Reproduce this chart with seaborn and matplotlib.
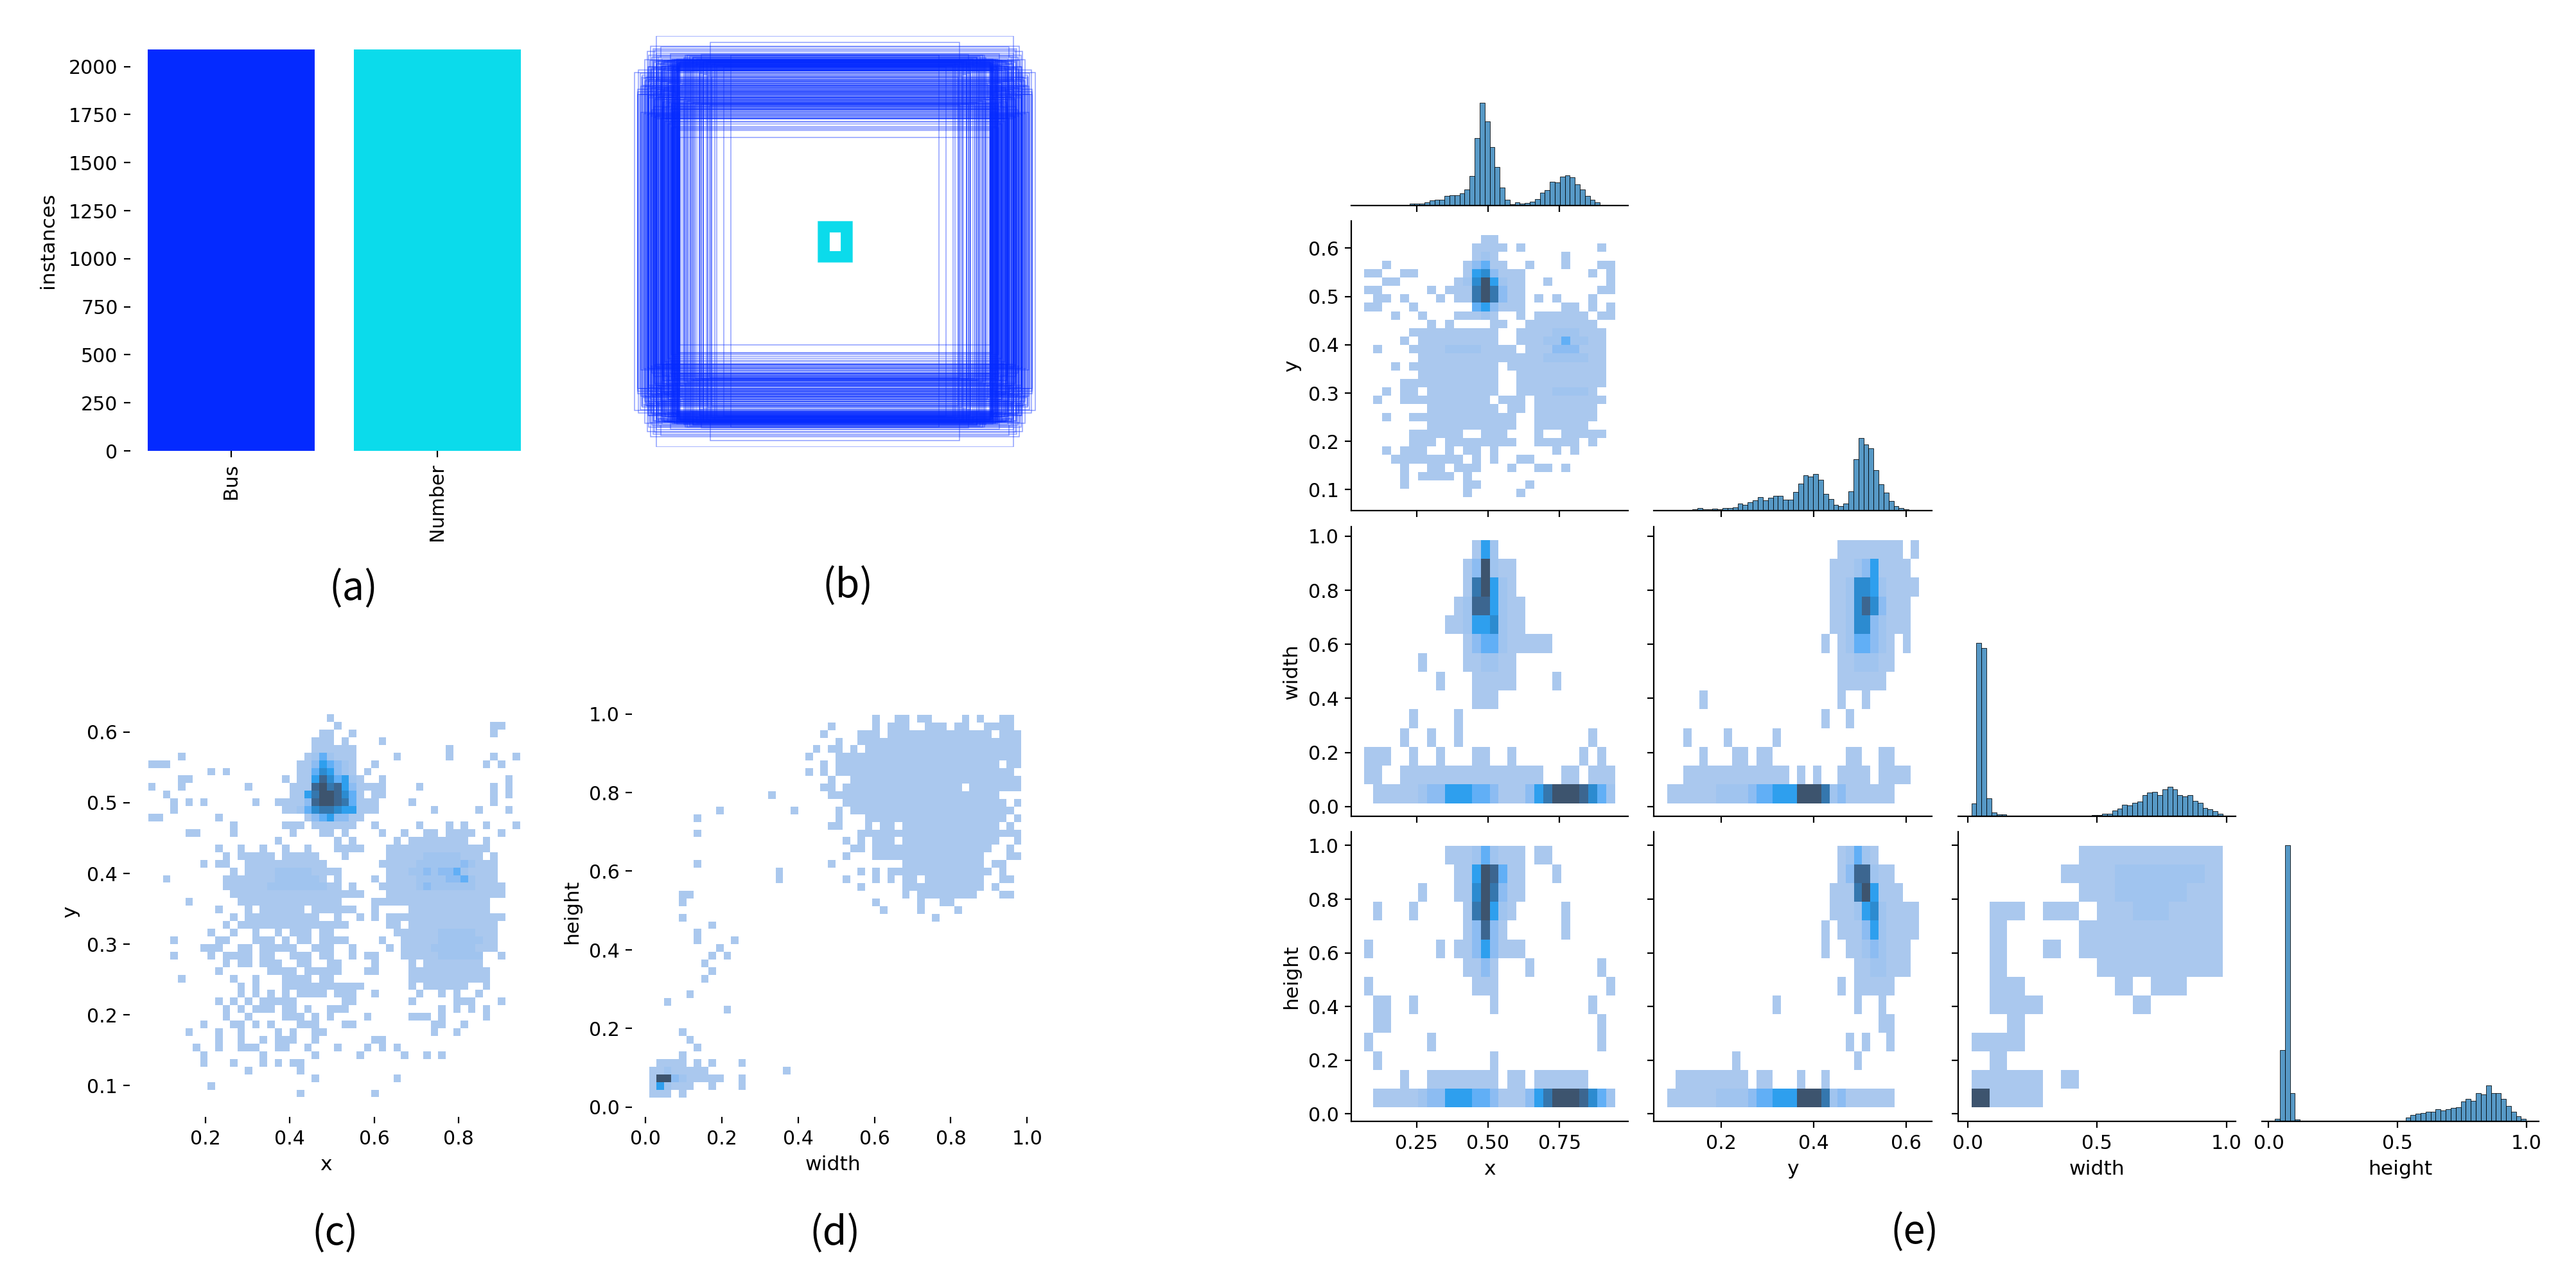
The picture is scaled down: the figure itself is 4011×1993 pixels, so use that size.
import numpy as np
import pandas as pd
import matplotlib
matplotlib.use('Agg')
import matplotlib.pyplot as plt
from matplotlib.patches import Rectangle
import seaborn as sns

W, H = 4012, 1993

plt.rcParams['xtick.labelsize'] = 10.8
plt.rcParams['ytick.labelsize'] = 10.8
plt.rcParams['axes.labelsize'] = 11.3

# (a) class counts
classes = ['Bus', 'Number']
instances = [2090, 2090]
class_colors = ['#042AFF', '#0BDBEB']

# (b) box sizes, thousandths of the plot square
bus_w = [975, 870, 605, 912, 905, 898, 890, 884, 877, 870,
         861, 855, 848, 842, 836, 828, 822, 815, 808, 800,
         794, 790, 786, 782, 778, 774, 770, 766, 762, 758,
         912, 905, 880, 875, 842, 836, 826, 820, 792, 788,
         905, 872, 845, 828, 812, 796, 768, 756, 930, 945,
         958, 925, 720, 705, 690, 672, 655, 640, 620, 600,
         575, 540, 505, 960, 950, 915, 868, 850, 810, 745,
         735, 725, 712, 700, 680, 660, 795, 785, 775, 765,
         900, 885, 865, 845, 830, 818, 805, 796, 781, 771,
         761, 752, 905, 878, 835, 790, 777, 769, 759, 728,
         690, 640, 585, 890, 872, 847, 825, 803, 787, 763,
         910, 893, 858, 840, 925, 868, 835, 790, 757, 700,
         780, 770, 760, 850, 825, 905, 880, 790, 765, 940,
         800, 812, 845, 870, 760, 785, 775, 895, 650, 625,
         770, 790, 830, 860, 880, 755, 765, 783, 810, 840,
         955, 948, 936, 922, 918, 908, 896, 888, 876, 868,
         858, 852, 838, 832, 812, 806, 798, 793, 787, 781,
         775, 769, 763, 757, 944, 930, 915, 900, 885, 870,
         850, 830, 810, 790, 770, 752, 735, 720, 700, 680,
         660, 640, 620, 600, 935, 905, 875, 845, 815, 785,
         755, 925, 895, 865, 835, 805, 775, 960, 910, 860,
         820, 780, 760, 735, 690, 650, 610, 880, 840, 800]
bus_h = [822, 1000, 968, 925, 905, 950, 895, 938, 930, 915,
         905, 898, 945, 890, 880, 875, 870, 865, 860, 855,
         850, 845, 840, 835, 830, 825, 868, 862, 856, 848,
         745, 730, 720, 700, 690, 675, 668, 660, 645, 630,
         620, 610, 600, 585, 570, 552, 545, 505, 760, 755,
         740, 780, 905, 898, 892, 886, 880, 875, 870, 860,
         855, 850, 905, 728, 715, 800, 790, 780, 770, 765,
         892, 885, 878, 868, 858, 848, 888, 882, 872, 866,
         882, 876, 862, 852, 842, 832, 852, 846, 838, 830,
         880, 874, 700, 690, 680, 670, 665, 655, 640, 905,
         895, 880, 870, 640, 615, 600, 595, 580, 560, 540,
         848, 842, 838, 830, 885, 878, 872, 866, 860, 830,
         885, 878, 870, 862, 855, 848, 842, 836, 830, 800,
         912, 880, 872, 866, 858, 850, 844, 836, 908, 878,
         888, 884, 880, 876, 872, 868, 864, 860, 856, 852,
         835, 818, 808, 798, 788, 778, 768, 758, 748, 738,
         728, 718, 708, 698, 688, 678, 672, 668, 662, 656,
         650, 644, 638, 632, 626, 620, 614, 608, 602, 596,
         735, 745, 755, 725, 715, 705, 695, 685, 675, 665,
         818, 812, 806, 800, 794, 788, 782, 776, 770, 764,
         758, 752, 746, 740, 734, 728, 722, 716, 710, 704,
         698, 692, 686, 680, 674, 668, 662, 656, 650, 644]
num_w = [80, 78, 76, 74, 72, 70, 68, 66, 64, 62, 60, 58, 56, 54, 52, 50, 48, 46, 44, 42, 40, 38, 36, 34, 32, 30]
num_h = [96, 94, 92, 90, 88, 86, 84, 82, 80, 78, 76, 74, 72, 70, 68, 66, 64, 62, 60, 58, 56, 54, 52, 52, 50, 50]

# heat levels to counts, rows below run top to bottom, "a-b" = occupied bins
level_counts = [0, 1, 5, 12, 24, 38, 54, 70, 84, 100]

xy_fine_rows = [
    '24', '25 46-47', '23-24 27 46', '22-24 26 31', '22-27 40', '4 21-27 33 40 46 49',
    '0-2 20-27 30 45 47', '8 10 20-27 29', '4-5 18 20-28 31 48', '0 4 13 19-31 36 46 48',
    '2 19-28 30-31 46 48', '3 5 7 14 17-30 35 46', '3 18-30 38 44 48', '0-1 9 21-28',
    '11 18-20 22-27 30 36 40 42 45 49', '5-6 11 19 23-24 26 31 34 37-38 40-43 47',
    '17 25 27 33 35-42 45', '9 12 15 18 21 25-28 32-45', '10 12-16 18-22 26 32-44 46',
    '7 9-10 13-23 31-46', '11 13-25 32-46', '2 10-23 25 30 32-46', '10-25 27 31-47',
    '11-28 32-47', '5 12-25 30-45', '9 13 15-20 22-27 30 35-45', '11 13-22 25 28 30 32-47',
    '10 12-26 32-33 35-46', '8 11 14 17 19-21 23-24 33-46', '3 9-10 14-16 18 20-21 23-26 31 34-46',
    '7-9 12-13 15-19 22-24 27 32 34-46', '3 8 10-13 15-16 19-21 23-24 27 29-30 34-44 47',
    '10 12-13 15-17 20-21 24-25 30 35 37-44', '9 16-19 21-25 29-30 35-45',
    '4 11 14 18-21 23-24 35-45', '12 14 18-28 35 37-42 45',
    '12 14 16 18 20-23 25-27 30 36 39 41 44', '9 11 13 15-19 26-27 35 41-43 47',
    '10 12 14-16 18-19 21 24-26 39 41 43 45', '10 13 18-20 22 24 29 35-37 39 45',
    '7 11-12 14 16 20-22 26-27 38-39 42', '5 9 12 17 19 22-23 38 41',
    '9 12 15 17-19 22 30-31', '6 9 12-14 17-18 21 25 29 31 33',
    '7 15 22 28 34 37 39', '7 11 15 17 19-20', '13 20', '22 33', '8', '20 30']
xy_fine_hot = [
    (5, 22, '242'), (6, 22, '35432'), (7, 22, '46532'), (8, 22, '586452'), (9, 22, '897853'),
    (10, 21, '5799864'), (11, 21, '3899874'), (12, 20, '24677655'), (13, 22, '34533'),
    (18, 37, '22222'), (19, 36, '22222232'), (20, 35, '22323342'), (21, 36, '22223342'),
    (22, 36, '23222222'), (20, 17, '22222'), (21, 17, '222222'), (22, 16, '22222222'),
    (28, 39, '22222'), (29, 39, '222222'), (30, 38, '222222'), (31, 39, '222222')]

wh_fine_rows = [
    '30 33-34 36-37 42 44 47-48', '24 30 32-34 37-39 41-42 45-48', '23 28-30 32-45 47-49',
    '25 28-49', '22 24-25 27 29-49', '21 25-49', '23 25-46 48-49', '21 23 25-48', '24 27-49',
    '23-24 26-41 43-49', '16 24-46', '26-47 49', '9 19 25 27-48', '6 25 29-47 49',
    '24-25 29 31-32 34-46 48', '6 28-49', '26 28 30-32 34-46 49', '27-28 30-45 48',
    '26 30-44 48-49', '6 24 34-44 46-47', '17 28 30 32-45 47', '17 26 30 32 34-35 37-44 47-48',
    '28 34-44 46', '4-5 34 36-43 47-48', '4 30 36 39-40', '31 36 41', '4 38', '8', '6', '6 11',
    '9', '8 10', '7', '8', '7', '', '5', '2', '10', '', '', '4', '5', '6', '4',
    '1-4 6 8 12', '0-7 18', '0-9 12', '0-5 8 12', '0-2 4']
wh_fine_hot = [(46, 2, '2'), (47, 1, '9932'), (48, 1, '52')]

# pair grid, 2d hist bins for x/y columns and coarse width/height rows
xy_rows = [
    '13-14', '12-15 17 26', '12-14 22', '2 11-15 18 22 26-27', '0-1 4-5 11-17 25 27',
    '2-3 10-17 20 27', '0-1 7 9-17 26-27', '1-2 4 8 10-17 19 21 25', '0-1 5 12-17 22-23 25 27',
    '3 6 10-14 17 19-24 26-27', '7 9 14-15 18-25', '5-14 17-26', '4 6-14 17-26', '1 5-16 18-26',
    '6-26', '3 5-14 16-26', '6-14 17-26', '4-14 17-26', '2 4-5 7-14 17-25', '1 4-13 15-17 19-26',
    '7-14 16-17 19-25', '2 5-16 19-25', '7-16 19-24', '5-10 13-15 19 22-26', '5-7 9-16 19-23 25',
    '2 4-6 9 11-12 14 21 23', '3-10 12 14 17-18', '4 7-8 10-12 16 19-20 22', '4 6-9 11', '4 11-12 18', '11 17']
xy_hot = [
    (2, 13, '2'), (3, 12, '34'), (4, 12, '563'), (5, 11, '26952'), (6, 12, '7973'),
    (7, 12, '7973'), (8, 12, '453'), (9, 13, '2'), (11, 21, '222'), (12, 20, '22422'),
    (13, 21, '333'), (14, 20, '22222'), (13, 9, '2222'), (18, 21, '2222')]

x_width_rows = [
    '12-14', '11-16', '11-16', '10-17', '9-17', '11-20', '6 11-16', '8 12-16 21', '12-14',
    '5 10', '4 7 10 25', '0-2 5 8 12-13 16 24 26', '0-1 4-19 22-23 25-27', '1-27']
x_width_hot = [
    (0, 12, '152'), (1, 11, '139211'), (2, 11, '179521'), (3, 10, '12885211'), (4, 9, '112556211'),
    (5, 12, '3442'), (6, 13, '22'), (13, 1, '111112335554431113579998642')]

y_width_rows = [
    '21-28 30', '20-29', '20-30', '20-29', '20-29', '19 21-27 29', '21-27', '21-26', '4 21 24',
    '19 22', '2 7 13', '4 8-9 11-12 22-23 26-27', '2-14 16 18 21-24 26-29', '0-27']
y_width_hot = [
    (1, 22, '1235'), (2, 22, '26652'), (3, 22, '26863'), (4, 22, '26632'), (5, 22, '24432'),
    (6, 23, '222'), (13, 6, '2222344555999723')]

x_height_rows = [
    '9-17 19-20', '10-17 21', '6 10-17', '1 5 11-16 22', '11-15 22', '0 8 10-17', '11-14 18 26',
    '0 12-14 27', '1-2 5 14 25', '1-2 26', '0 7 26', '1 14', '4 7-14 16-17 19-24', '1-27']
x_height_hot = [
    (0, 12, '242'), (1, 12, '5984'), (2, 12, '6973'), (3, 12, '7952'), (4, 12, '383'),
    (5, 12, '353'), (6, 13, '3'), (13, 1, '111112335554431113579998642')]

y_height_rows = [
    '21-25', '21-27', '20-28', '20-30', '19 21-30', '19 22-29', '23-29', '21 23-27', '13 23 26',
    '26-27', '22 24 27', '8 23', '1-9 11-12 16 19', '0-27']
y_height_hot = [
    (0, 22, '242'), (1, 22, '3882'), (2, 23, '795'), (3, 23, '2562'), (4, 24, '352'),
    (5, 24, '232'), (6, 25, '22'), (13, 6, '2222344555999723')]

width_height_rows = [
    '6-13', '5-13', '6-13', '1-2 4-5 7-13', '1 6-13', '1 4 6-13', '1 7-13', '1-2 8 10-11',
    '1-3 9', '2', '0-2', '1', '0-3 5', '0-3']
width_height_hot = [(1, 8, '22222'), (2, 8, '2222'), (3, 9, '22'), (13, 0, '9')]

# diagonal bin heights (50 bins each)
x_counts = [0, 0, 0, 0, 0, 0, 0, 0, 0, 3, 3, 3, 5, 8, 9, 9, 15, 16, 16, 19, 25, 46, 105, 160, 131,
            91, 60, 28, 9, 2, 5, 3, 4, 6, 10, 20, 24, 37, 36, 45, 47, 44, 33, 25, 15, 9, 5, 1, 0, 0]
y_counts = [0, 0, 0, 0, 1, 2, 4, 2, 2, 3, 2, 4, 4, 5, 11, 9, 13, 16, 21, 16, 20, 23, 23, 17, 17,
            29, 42, 55, 53, 57, 48, 26, 18, 9, 7, 11, 30, 80, 113, 103, 97, 63, 41, 28, 15, 7, 4, 2, 0, 0]
width_counts = [20, 270, 262, 28, 6, 3, 3, 0, 0, 0, 0, 0, 0, 0, 0, 0, 0, 0, 0, 0, 0, 0, 0, 0, 2,
                2, 4, 4, 9, 12, 18, 17, 21, 23, 33, 37, 38, 33, 42, 46, 42, 33, 31, 33, 24, 21, 13, 11, 8, 4]
height_counts = [4, 111, 430, 44, 3, 0, 0, 0, 0, 0, 0, 0, 0, 0, 0, 0, 0, 0, 0, 0, 0, 0, 0, 0, 0, 0,
                 6, 10, 12, 13, 15, 15, 19, 17, 19, 21, 22, 31, 35, 32, 44, 42, 56, 44, 44, 35, 24, 15, 8, 4]

x_bins = np.linspace(0.068, 0.944, 29)
x_fine = np.linspace(0.064, 0.9456, 51)
y_bins = np.linspace(0.084, 0.627, 32)
y_fine = np.linspace(0.0837, 0.625, 51)
w_fine = np.linspace(0.0098, 0.985, 51)
h_fine = np.linspace(0.0245, 0.998, 51)
w_bins = np.linspace(0.012, 0.985, 15)
h_bins = np.linspace(0.024, 0.998, 15)
w_cols = np.linspace(0.014, 0.985, 15)


def px_axes(fig, left, top, right, bottom):
    return fig.add_axes([left / W, 1 - bottom / H, (right - left) / W, (bottom - top) / H])


def cells(rows, hot):
    grid = {}
    for r, spec in enumerate(rows):
        for tok in spec.split():
            a, _, b = tok.partition('-')
            for c in range(int(a), int(b or a) + 1):
                grid[(r, c)] = 1
    for r, c0, levels in hot:
        for i, ch in enumerate(levels):
            grid[(r, c0 + i)] = int(ch)
    return grid


def hist2d(ax, rows, hot, xedges, yedges):
    grid = cells(rows, hot)
    n = len(yedges) - 1
    xc = (xedges[:-1] + xedges[1:]) / 2
    yc = (yedges[:-1] + yedges[1:]) / 2
    df = pd.DataFrame({
        'x': [xc[c] for (r, c) in grid],
        'y': [yc[n - 1 - r] for (r, c) in grid],
        'n': [level_counts[v] for v in grid.values()],
    })
    sns.histplot(data=df, x='x', y='y', weights='n', bins=[list(xedges), list(yedges)], ax=ax)
    ax.set(xlabel='', ylabel='')


def hist1d(ax, counts, edges):
    centers = (edges[:-1] + edges[1:]) / 2
    sns.histplot(x=centers, weights=counts, bins=list(edges), ax=ax)
    ax.set(xlabel='', ylabel='')


fig = plt.figure(figsize=(W / 200, H / 200 + 0.001), dpi=200)

# (a)
ax = px_axes(fig, 203, 77, 811, 702)
sns.barplot(x=classes, y=instances, hue=classes, palette=class_colors, width=0.81,
            saturation=1, legend=False, ax=ax)
ax.set_xlim(-0.489, 1.405)
ax.set_ylim(0, 2090)
ax.set_yticks(range(0, 2001, 250))
ax.set_ylabel('instances')
ax.yaxis.set_label_coords(-0.187, 0.525)
plt.setp(ax.get_xticklabels(), rotation=90)
sns.despine(ax=ax, left=True, bottom=True)

# (b)
ax = px_axes(fig, 980, 56, 1620, 696)
ax.set_xlim(-0.5, 0.5)
ax.set_ylim(-0.5, 0.5)
for w, h in zip(bus_w, bus_h):
    ax.add_patch(Rectangle((-w / 2000, -h / 2000), w / 1000, h / 1000, fill=False,
                           edgecolor=class_colors[0], alpha=0.45, lw=0.55))
for w, h in zip(num_w, num_h):
    ax.add_patch(Rectangle((-w / 2000, -h / 2000), w / 1000, h / 1000, fill=False,
                           edgecolor=class_colors[1], alpha=0.9, lw=0.9))
ax.axis('off')

# (c)
ax = px_axes(fig, 202, 1100, 812, 1739)
hist2d(ax, xy_fine_rows, xy_fine_hot, x_fine, y_fine)
ax.set_xlim(0.0203, 0.949)
ax.set_ylim(0.056, 0.636)
ax.set_xticks([0.2, 0.4, 0.6, 0.8])
ax.set_yticks([0.1, 0.2, 0.3, 0.4, 0.5, 0.6])
ax.set_xlabel('x')
ax.set_ylabel('y')
sns.despine(ax=ax, left=True, bottom=True)

# (d)
ax = px_axes(fig, 984, 1100, 1610, 1739)
hist2d(ax, wh_fine_rows, wh_fine_hot, w_fine, h_fine)
ax.set_xlim(-0.035, 1.018)
ax.set_ylim(-0.025, 1.019)
ax.set_xticks([0, 0.2, 0.4, 0.6, 0.8, 1.0])
ax.set_yticks([0, 0.2, 0.4, 0.6, 0.8, 1.0])
ax.set_xlabel('width')
ax.set_ylabel('height')
sns.despine(ax=ax, left=True, bottom=True)

# (e)
col_px = [(2104, 2535), (2575, 3008), (3049, 3481), (3522, 3953)]
row_bottoms = [320, 795.5, 1271, 1746.5]
col_lims = [(0.022, 0.99), (0.055, 0.655), (-0.037, 1.035), (-0.026, 1.047)]
row_lims = [None, (0.056, 0.656), (-0.036, 1.035), (-0.029, 1.05)]
col_ticks = [[0.25, 0.5, 0.75], [0.2, 0.4, 0.6], [0, 0.5, 1.0], [0, 0.5, 1.0]]
row_ticks = [None, [0.1, 0.2, 0.3, 0.4, 0.5, 0.6], [0, 0.2, 0.4, 0.6, 0.8, 1.0], [0, 0.2, 0.4, 0.6, 0.8, 1.0]]
names = ['x', 'y', 'width', 'height']
diag_counts = [x_counts, y_counts, width_counts, height_counts]
diag_edges = [np.linspace(0.068, 0.944, 51), np.linspace(0.084, 0.627, 51),
              np.linspace(0.014, 0.985, 51), np.linspace(0.024, 0.998, 51)]
pairs = {
    (1, 0): (xy_rows, xy_hot, x_bins, y_bins),
    (2, 0): (x_width_rows, x_width_hot, x_bins, w_bins),
    (2, 1): (y_width_rows, y_width_hot, y_bins, w_bins),
    (3, 0): (x_height_rows, x_height_hot, x_bins, h_bins),
    (3, 1): (y_height_rows, y_height_hot, y_bins, h_bins),
    (3, 2): (width_height_rows, width_height_hot, w_cols, h_bins),
}
for r in range(4):
    for c in range(r + 1):
        ax = px_axes(fig, col_px[c][0], row_bottoms[r] - 451, col_px[c][1], row_bottoms[r])
        if r == c:
            hist1d(ax, diag_counts[c], diag_edges[c])
            ax.set_ylim(0, 451)
            ax.yaxis.set_visible(False)
            sns.despine(ax=ax, left=True)
        else:
            hist2d(ax, *pairs[(r, c)])
            ax.set_ylim(*row_lims[r])
            ax.set_yticks(row_ticks[r])
            sns.despine(ax=ax)
            if c > 0:
                ax.tick_params(labelleft=False)
            else:
                ax.set_ylabel(names[r])
        ax.set_xlim(*col_lims[c])
        ax.set_xticks(col_ticks[c])
        if r < 3:
            ax.tick_params(labelbottom=False)
        else:
            ax.set_xlabel(names[c])

# panel letters
letter_font = ['Noto Sans CJK KR', 'DejaVu Sans']
for label, lx, ly in [('(a)', 550, 917), ('(b)', 1320, 913), ('(c)', 522, 1921),
                      ('(d)', 1300, 1921), ('(e)', 2981, 1919)]:
    fig.text(lx / W, 1 - ly / H, label, fontsize=22, family=letter_font, ha='center', va='center')

fig.savefig('out.png', dpi=200)
